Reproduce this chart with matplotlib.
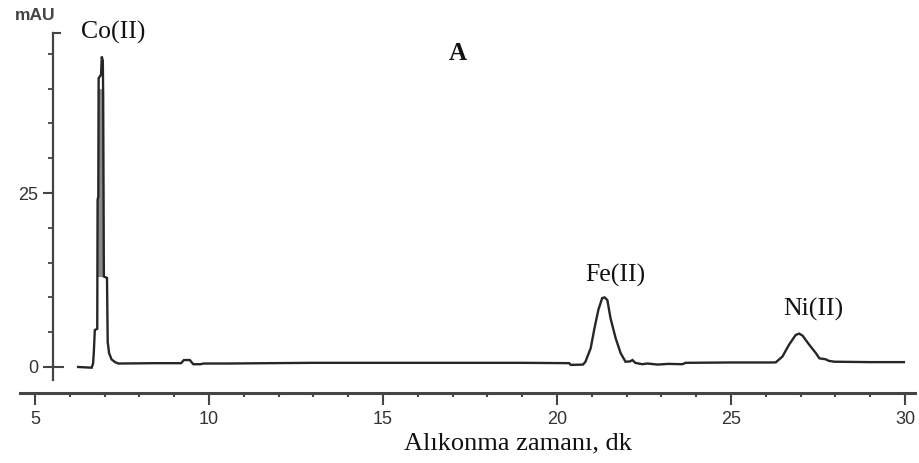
import matplotlib
matplotlib.use("Agg")
import matplotlib.pyplot as plt
import numpy as np

# Retention time (min) and absorbance (mAU)
time_min = [6.24, 6.63, 6.67, 6.69, 6.72, 6.79, 6.80, 6.82, 6.83, 6.90, 6.92, 6.95,
            6.96, 6.98, 7.07, 7.09, 7.13, 7.20, 7.30, 7.40,
            8.50, 9.20, 9.28, 9.45, 9.55, 9.75, 9.85, 10.50, 13.00, 16.00, 19.00,
            20.35, 20.40, 20.75, 20.82, 20.97, 21.08, 21.19, 21.30, 21.37, 21.45,
            21.54, 21.69, 21.83, 21.97, 22.10, 22.17, 22.25, 22.45, 22.60, 22.90,
            23.20, 23.60, 23.70, 25.00, 26.20, 26.29, 26.48, 26.67, 26.86, 26.96,
            27.06, 27.25, 27.44, 27.54, 27.73, 27.80, 27.97, 29.00, 29.97]
absorb_mau = [0.0, -0.1, 0.5, 2.0, 5.3, 5.5, 24.0, 24.5, 41.5, 42.0, 44.6, 44.0,
              39.0, 13.0, 12.8, 3.6, 2.0, 1.1, 0.7, 0.5,
              0.55, 0.55, 1.0, 1.0, 0.4, 0.4, 0.5, 0.5, 0.6, 0.6, 0.6,
              0.55, 0.3, 0.35, 0.76, 2.7, 5.6, 8.2, 9.9, 10.0, 9.6,
              7.0, 4.1, 2.0, 0.76, 0.8, 1.0, 0.6, 0.4, 0.5, 0.35,
              0.45, 0.4, 0.6, 0.65, 0.65, 0.67, 1.5, 3.2, 4.6, 4.8,
              4.5, 3.2, 2.0, 1.25, 1.1, 0.9, 0.76, 0.7, 0.7]

peak_names = ["Co(II)", "Fe(II)", "Ni(II)"]
peak_label_x = [7.24, 21.67, 27.36]
peak_label_y = [48.1, 13.2, 8.2]

x_major = [5, 10, 15, 20, 25, 30]
x_labels = ["5", "10", "15", "20", "25", "30"]
y_major = [0, 25]
y_labels = ["0", "25"]
y_minor = [5, 10, 15, 20, 30, 35, 40, 45]

W, H = 920, 463
fig = plt.figure(figsize=(W / 100, H / 100), dpi=100)
ax = fig.add_axes([20 / W, (H - 393) / H, 895 / W, (393 - 20) / H])

t = np.array(time_min)
v = np.array(absorb_mau)

# gray core of the Co peak
mask = (t >= 6.79) & (t <= 6.99)
ax.fill_between(t[mask], np.minimum(v[mask], 40), 13, where=v[mask] > 13,
                color="#8a8a8a", lw=0, zorder=2)
ax.plot(t, v, color="#262626", lw=1.7, zorder=3, solid_joinstyle="miter")

ax.set_xlim(4.57, 30.29)
ax.set_ylim(-3.736, 49.86)

spine_x = 5.517
for s in ("top", "right"):
    ax.spines[s].set_visible(False)
ax.spines["bottom"].set_color("#444444")
ax.spines["bottom"].set_linewidth(2.2)
ax.spines["left"].set_position(("data", spine_x))
ax.spines["left"].set_bounds(-1.87, 48.0)
ax.spines["left"].set_color("#444444")
ax.spines["left"].set_linewidth(1.6)

tick_font = dict(family="Liberation Sans", size=13, color="#333333")
ax.set_xticks(x_major)
ax.set_xticklabels(x_labels, **tick_font)
ax.set_xticks(np.arange(5, 31, 1), minor=True)
ax.set_yticks(y_major)
ax.set_yticklabels(y_labels, **tick_font)
ax.set_yticks(y_minor, minor=True)

ax.tick_params(axis="x", which="major", direction="out", length=8.6, width=1.5,
               color="#444444", pad=4.5)
ax.tick_params(axis="x", which="minor", direction="out", length=3, width=1.5,
               color="#444444")
ax.tick_params(axis="y", which="major", direction="out", length=7.2, width=1.5,
               color="#444444", pad=3.4)
ax.tick_params(axis="y", which="minor", direction="out", length=3.6, width=1.3,
               color="#444444")

# zero tick crossing to the right and top cap of the y axis
ax.plot([spine_x, spine_x + 10 / 34.8], [0, 0], color="#444444", lw=1.5, clip_on=False)
ax.plot([spine_x, spine_x + 7 / 34.8], [48.0, 48.0], color="#444444", lw=1.5, clip_on=False)

serif = "Liberation Serif"
for name, lx, ly in zip(peak_names, peak_label_x, peak_label_y):
    ax.text(lx, ly, name, family=serif, size=18.5, ha="center", va="center",
            color="#111111")

ax.text(17.16, 45.1, "A", family=serif, size=18, fontweight="bold",
        ha="center", va="center", color="#111111")

fig.text(518 / W, 1 - 443 / H, "Alıkonma zamanı, dk", family=serif, size=19,
         ha="center", va="center", color="#111111")
fig.text(35 / W, 1 - 15 / H, "mAU", family="Liberation Sans", size=12.5,
         fontweight="bold", ha="center", va="center", color="#444444")

fig.savefig("out.png", dpi=100)
